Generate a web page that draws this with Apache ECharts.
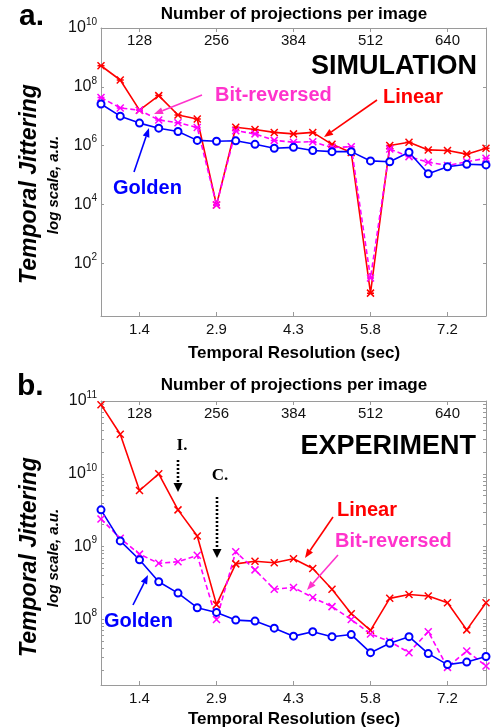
<!DOCTYPE html>
<html>
<head>
<meta charset="utf-8">
<script src="https://cdn.jsdelivr.net/npm/echarts@6/dist/echarts.min.js"></script>
<style>
  html, body { margin: 0; padding: 0; background: #fff; }
  #chart { width: 497px; height: 727px; }
</style>
</head>
<body>
<div id="chart"></div>
<script>
// x: number of projections per image (one point every 32 projections)
const projections = [64, 96, 128, 160, 192, 224, 256, 288, 320, 352, 384, 416, 448, 480, 512, 544, 576, 608, 640, 672, 704]
const projTicks = [128, 256, 384, 512, 640]
const resolutionTicks = ['1.4', '2.9', '4.3', '5.8', '7.2']

// y ticks (powers of ten)
const simDecades = [2, 4, 6, 8, 10]
const expDecades = [8, 9, 10, 11]

// a. SIMULATION
const simLinear = [5.2e8, 1.7e8, 1.6e7, 5.0e7, 1.1e7, 8.0e6, 9.5e3, 4.2e6, 3.5e6, 2.8e6, 2.5e6, 2.8e6, 1.1e6, 5.8e5, 9.5, 1.0e6, 1.3e6, 7.1e5, 6.8e5, 5.1e5, 8.1e5]
const simBitrev = [4.3e7, 1.9e7, 1.6e7, 7.4e6, 6.0e6, 4.1e6, 9.5e3, 3.2e6, 2.5e6, 1.5e6, 1.3e6, 1.35e6, 8.5e5, 9.1e5, 31, 7.6e5, 4.2e5, 2.7e5, 2.1e5, 2.8e5, 3.7e5]
const simGolden = [2.6e7, 1.0e7, 5.8e6, 3.9e6, 3.0e6, 1.5e6, 1.4e6, 1.45e6, 1.1e6, 8.1e5, 8.7e5, 6.8e5, 6.2e5, 6.2e5, 3.0e5, 2.8e5, 5.9e5, 1.1e5, 1.9e5, 2.3e5, 2.2e5]

// b. EXPERIMENT
const expLinear = [8.9e10, 3.5e10, 5.9e9, 1.0e10, 3.2e9, 1.4e9, 1.6e8, 5.8e8, 6.3e8, 6.0e8, 6.8e8, 5.0e8, 2.6e8, 1.2e8, 7.1e7, 1.95e8, 2.2e8, 2.1e8, 1.7e8, 7.2e7, 1.7e8]
const expBitrev = [2.4e9, 1.3e9, 7.9e8, 5.9e8, 6.2e8, 7.6e8, 1.0e8, 8.5e8, 4.8e8, 2.6e8, 2.75e8, 2.0e8, 1.5e8, 1.0e8, 6.3e7, 5.0e7, 3.5e7, 6.8e7, 2.2e7, 3.7e7, 2.3e7]
const expGolden = [3.2e9, 1.2e9, 6.6e8, 3.3e8, 2.3e8, 1.45e8, 1.25e8, 9.8e7, 9.5e7, 7.6e7, 5.9e7, 6.8e7, 5.8e7, 6.2e7, 3.5e7, 4.7e7, 5.8e7, 3.4e7, 2.4e7, 2.6e7, 3.1e7]

const font = 'Liberation Sans, Arial, sans-serif'
const axisColor = '#9a9a9a'
const RED = '#ff0000'
const MAG = '#ff00ff'
const MAG_TXT = '#ff33cc'
const BLUE = '#0000ff'

const SYM_STAR = 'path://M0,0L10,10M10,0L0,10M0,5L10,5'
const SYM_X = 'path://M0,0L10,10M10,0L0,10'

// minor log ticks for the experiment panel
const expMinor = []
for (let n = 7; n <= 10; n++) {
  for (let k = 2; k <= 9; k++) {
    const v = n + Math.log10(k)
    if (v > 7.1) expMinor.push(v)
  }
}

const toLog = vals => projections.map((p, i) => [p, Math.log10(vals[i])])

function xAxes(grid) {
  const base = {
    type: 'value',
    gridIndex: grid,
    min: 64,
    max: 704,
    axisLine: { show: true, onZero: false, lineStyle: { color: axisColor } },
    axisTick: { show: true, inside: true, length: 4, customValues: projTicks, lineStyle: { color: axisColor } },
    splitLine: { show: false }
  }
  return [
    Object.assign({}, base, {
      position: 'bottom',
      axisLabel: {
        customValues: projTicks, margin: 6, color: '#111', fontSize: 15, fontFamily: font,
        formatter: v => resolutionTicks[projTicks.indexOf(v)]
      }
    }),
    Object.assign({}, base, {
      position: 'top',
      axisLabel: {
        customValues: projTicks, inside: true, margin: 5, color: '#111', fontSize: 15, fontFamily: font,
        formatter: v => String(v)
      }
    })
  ]
}

function yAxes(grid, min, max, majors, ticks) {
  const base = {
    type: 'value',
    gridIndex: grid,
    min: min,
    max: max,
    axisLine: { show: true, lineStyle: { color: axisColor } },
    axisTick: { show: true, inside: true, length: 3, customValues: ticks, lineStyle: { color: axisColor } },
    splitLine: { show: false }
  }
  return [
    Object.assign({}, base, {
      position: 'left',
      axisLabel: {
        customValues: majors, margin: 4,
        formatter: v => '{b|10}{s|' + v + '}',
        rich: {
          b: { fontSize: 16, fontFamily: font, color: '#111', lineHeight: 22, verticalAlign: 'middle' },
          s: { fontSize: 10, fontFamily: font, color: '#111', lineHeight: 10, verticalAlign: 'top' }
        }
      }
    }),
    Object.assign({}, base, { position: 'right', axisLabel: { show: false } })
  ]
}

function series(name, vals, xi, yi, color, sym, dashed) {
  return {
    name: name,
    type: 'line',
    xAxisIndex: xi,
    yAxisIndex: yi,
    data: toLog(vals),
    symbol: sym,
    symbolSize: 7,
    lineStyle: { color: color, width: 1.6, type: dashed ? [5, 3] : 'solid' },
    itemStyle: { color: color, borderColor: color, borderWidth: 1.5 },
    animation: false
  }
}

function txt(text, x, y, o) {
  return {
    type: 'text', x: x, y: y, rotation: o.rot || 0, z: 100,
    style: {
      text: text, fill: o.color || '#000', fontSize: o.size, fontWeight: o.weight || 'bold',
      fontStyle: o.style || 'normal', fontFamily: o.family || font,
      align: o.align || 'left', verticalAlign: 'middle'
    }
  }
}

function arrow(x1, y1, x2, y2, color, o) {
  o = o || {}
  const dx = x2 - x1, dy = y2 - y1
  const len = Math.hypot(dx, dy)
  const ux = dx / len, uy = dy / len
  const hl = o.head || 9, hw = o.hw || 3.5
  const bx = x2 - ux * hl, by = y2 - uy * hl
  return [
    { type: 'line', z: 100, shape: { x1: x1, y1: y1, x2: bx, y2: by },
      style: { stroke: color, lineWidth: o.w || 1.6, lineDash: o.dash || null } },
    { type: 'polygon', z: 100,
      shape: { points: [[x2, y2], [bx - uy * hw, by + ux * hw], [bx + uy * hw, by - ux * hw]] },
      style: { fill: color } }
  ]
}

const chart = echarts.init(document.getElementById('chart'), null, { renderer: 'canvas' })

const dotted = { dash: [2, 2], w: 2.6, head: 9, hw: 4.5 }

const option = {
  animation: false,
  backgroundColor: '#fff',
  grid: [
    { left: 101, top: 28, width: 385, height: 288 },
    { left: 101, top: 401, width: 385, height: 284 }
  ],
  xAxis: [].concat(xAxes(0), xAxes(1)),
  yAxis: [].concat(
    yAxes(0, 0.2, 10, simDecades, simDecades),
    yAxes(1, 7.1, 11, expDecades, expDecades.concat(expMinor))
  ),
  series: [
    series('Linear', simLinear, 0, 0, RED, SYM_STAR, false),
    series('Bit-reversed', simBitrev, 0, 0, MAG, SYM_STAR, true),
    series('Golden', simGolden, 0, 0, BLUE, 'emptyCircle', false),
    series('Linear', expLinear, 2, 2, RED, SYM_X, false),
    series('Bit-reversed', expBitrev, 2, 2, MAG, SYM_X, true),
    series('Golden', expGolden, 2, 2, BLUE, 'emptyCircle', false)
  ],
  graphic: [].concat(
    [
      txt('a.', 19, 17, { size: 30 }),
      txt('b.', 17, 387, { size: 30 }),
      txt('Number of projections per image', 294, 14, { size: 17, align: 'center' }),
      txt('Temporal Resolution (sec)', 294, 353, { size: 17, align: 'center' }),
      txt('Number of projections per image', 294, 385, { size: 17, align: 'center' }),
      txt('Temporal Resolution (sec)', 294, 719, { size: 17, align: 'center' }),
      txt('Temporal Jittering', 30, 184, { size: 23, style: 'italic', align: 'center', rot: Math.PI / 2 }),
      txt('log scale, a.u.', 54, 185, { size: 15, style: 'italic', align: 'center', rot: Math.PI / 2 }),
      txt('Temporal Jittering', 30, 557, { size: 23, style: 'italic', align: 'center', rot: Math.PI / 2 }),
      txt('log scale, a.u.', 54, 558, { size: 15, style: 'italic', align: 'center', rot: Math.PI / 2 }),
      txt('SIMULATION', 477, 67, { size: 27, align: 'right' }),
      txt('EXPERIMENT', 476, 447, { size: 27, align: 'right' }),
      txt('Bit-reversed', 215, 95, { size: 20, color: MAG_TXT }),
      txt('Linear', 383, 97, { size: 20, color: RED }),
      txt('Golden', 113, 188, { size: 20, color: BLUE }),
      txt('Linear', 337, 510, { size: 20, color: RED }),
      txt('Bit-reversed', 335, 541, { size: 20, color: MAG_TXT }),
      txt('Golden', 104, 621, { size: 20, color: BLUE }),
      txt('I.', 182, 446, { size: 17, align: 'center', family: 'Liberation Serif, Times New Roman, serif' }),
      txt('C.', 220, 476, { size: 17, align: 'center', family: 'Liberation Serif, Times New Roman, serif' })
    ],
    arrow(202, 95, 154, 114, MAG_TXT),
    arrow(377, 100, 324, 137, RED),
    arrow(134, 172, 149, 128, BLUE),
    arrow(333, 517, 305, 558, RED),
    arrow(338, 555, 307, 590, MAG_TXT),
    arrow(133, 605, 148, 575, BLUE),
    arrow(178, 460, 178, 492, '#000', dotted),
    arrow(217, 497, 217, 558, '#000', dotted)
  )
}

chart.setOption(option)

window.addEventListener('resize', () => chart.resize())
</script>
</body>
</html>
